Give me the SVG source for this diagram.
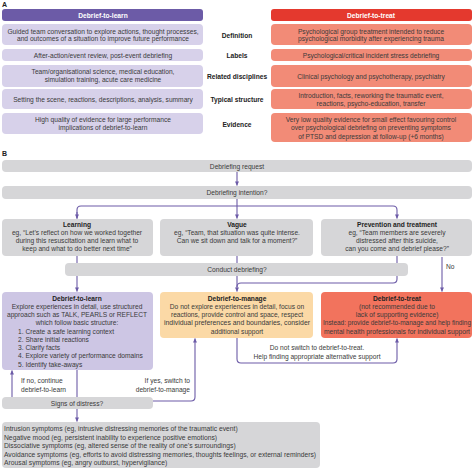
<svg xmlns="http://www.w3.org/2000/svg" width="474" height="469" viewBox="0 0 474 469">
<style>
text{font-family:"Liberation Sans",Arial,sans-serif;font-size:6.65px;fill:#3a3a3a;dominant-baseline:central}
.c{text-anchor:middle}
.r{text-anchor:end}
.b{font-weight:bold;fill:#222}
.h{fill:#fff;font-weight:bold;text-anchor:middle}
.lbl{font-weight:bold;fill:#222;text-anchor:middle}
.sec{font-weight:bold;font-size:7px;fill:#222}
.sy{font-size:6.75px}
.lav{fill:#d7d1ea}
.lav2{fill:#cdc6e4}
.sal{fill:#f28b77}
.gr{fill:#d6d6d8}
.man{fill:#fbd9a6}
.trt{fill:#f2735d}
.conn{fill:none;stroke:#6c5ba7;stroke-width:1.1}
</style>
<defs>
<marker id="ah" viewBox="0 0 6 6" refX="5.5" refY="3" markerWidth="4" markerHeight="4" orient="auto"><path d="M0,0.3 L6,3 L0,5.7 z" fill="#6c5ba7"/></marker>
</defs>

<text class="sec" x="2" y="4">A</text>

<g id="a-left">
<rect x="2" y="9" width="201" height="12" rx="3" fill="#6c5ba7"/>
<text class="h" x="103" y="15.2">Debrief-to-learn</text>
<rect class="lav" x="2" y="24" width="201" height="21" rx="4"/>
<text class="c" x="103" y="31">Guided team conversation to explore actions, thought processes,</text>
<text class="c" x="103" y="38.5">and outcomes of a situation to improve future performance</text>
<rect class="lav" x="2" y="49" width="201" height="12" rx="4"/>
<text class="c" x="103" y="55">After-action/event review, post-event debriefing</text>
<rect class="lav" x="2" y="65" width="201" height="22" rx="4"/>
<text class="c" x="103" y="71.5">Team/organisational science, medical education,</text>
<text class="c" x="103" y="79.5">simulation training, acute care medicine</text>
<rect class="lav" x="2" y="89" width="201" height="20" rx="4"/>
<text class="c" x="103" y="99">Setting the scene, reactions, descriptions, analysis, summary</text>
<rect class="lav" x="2" y="113" width="201" height="21" rx="4"/>
<text class="c" x="103" y="119">High quality of evidence for large performance</text>
<text class="c" x="103" y="127">implications of debrief-to-learn</text>
</g>

<g id="a-labels">
<text class="lbl" x="237" y="35">Definition</text>
<text class="lbl" x="237" y="55">Labels</text>
<text class="lbl" x="237" y="76">Related disciplines</text>
<text class="lbl" x="237" y="99">Typical structure</text>
<text class="lbl" x="237" y="124">Evidence</text>
</g>

<g id="a-right">
<rect x="271" y="9" width="201" height="12" rx="3" fill="#e4392e"/>
<text class="h" x="371" y="15.2">Debrief-to-treat</text>
<rect class="sal" x="271" y="24" width="201" height="21" rx="4"/>
<text class="c" x="371" y="31">Psychological group treatment intended to reduce</text>
<text class="c" x="371" y="38.5">psychological morbidity after experiencing trauma</text>
<rect class="sal" x="271" y="49" width="201" height="12" rx="4"/>
<text class="c" x="371" y="55">Psychological/critical incident stress debriefing</text>
<rect class="sal" x="271" y="65" width="201" height="22" rx="4"/>
<text class="c" x="371" y="76">Clinical psychology and psychotherapy, psychiatry</text>
<rect class="sal" x="271" y="89" width="201" height="20" rx="4"/>
<text class="c" x="371" y="95">Introduction, facts, reworking the traumatic event,</text>
<text class="c" x="371" y="103">reactions, psycho-education, transfer</text>
<rect class="sal" x="271" y="113" width="201" height="29" rx="4"/>
<text class="c" x="371" y="119">Very low quality evidence for small effect favouring control</text>
<text class="c" x="371" y="127.5">over psychological debriefing on preventing symptoms</text>
<text class="c" x="371" y="136">of PTSD and depression at follow-up (+6 months)</text>
</g>

<text class="sec" x="2" y="153">B</text>

<g id="connectors">
<path class="conn" d="M237,172 V185.5" marker-end="url(#ah)"/>
<path class="conn" d="M237,199 V218.5"  marker-end="url(#ah)"/>
<path class="conn" d="M77,218.5 V210 Q77,206 81,206 H393 Q397,206 397,210 V218.5" marker-end="url(#ah)"/>
<path class="conn" d="M77,212 V218.5" marker-end="url(#ah)"/>
<path class="conn" d="M77,256 V291.5" marker-end="url(#ah)"/>
<path class="conn" d="M237,256 V291.5" marker-end="url(#ah)"/>
<path class="conn" d="M397,256 V279 Q397,283 393,283 H241 Q237,283 237,287"/>
<path class="conn" d="M442,257 V291.5" marker-end="url(#ah)"/>
<path class="conn" d="M237,338 V359 Q237,363 241,363 H393 Q397,363 397,359 V338.5" marker-end="url(#ah)"/>
<path class="conn" d="M77,370 V421.5" marker-end="url(#ah)"/>
<path class="conn" d="M12,397 V370.5" marker-end="url(#ah)"/>
<path class="conn" d="M153,401 H191 Q195,401 195,397 V338.5" marker-end="url(#ah)"/>
</g>

<g id="debriefing-request">
<rect class="gr" x="2" y="160" width="470" height="12" rx="4"/>
<text class="c" x="237" y="166">Debriefing request</text>
</g>
<g id="debriefing-intention">
<rect class="gr" x="2" y="186" width="470" height="13" rx="4"/>
<text class="c" x="237" y="192.5">Debriefing intention?</text>
</g>
<g id="learning">
<rect class="gr" x="2" y="219" width="151" height="37" rx="4"/>
<text class="c b" x="77" y="224.5">Learning</text>
<text class="c" x="77" y="232.5">eg, “Let’s reflect on how we worked together</text>
<text class="c" x="77" y="240.5">during this resuscitation and learn what to</text>
<text class="c" x="77" y="248.5">keep and what to do better next time”</text>
</g>
<g id="vague">
<rect class="gr" x="160" y="219" width="153" height="37" rx="4"/>
<text class="c b" x="237" y="224.5">Vague</text>
<text class="c" x="237" y="232.5">eg, “Team, that situation was quite intense.</text>
<text class="c" x="237" y="240.5">Can we sit down and talk for a moment?”</text>
</g>
<g id="prevention">
<rect class="gr" x="321" y="219" width="151" height="37" rx="4"/>
<text class="c b" x="397" y="224.5">Prevention and treatment</text>
<text class="c" x="397" y="232.5">eg, “Team members are severely</text>
<text class="c" x="397" y="240.5">distressed after this suicide,</text>
<text class="c" x="397" y="248.5">can you come and debrief please?”</text>
</g>
<g id="conduct">
<rect class="gr" x="65" y="263" width="343" height="13" rx="4"/>
<text class="c" x="237" y="269.5">Conduct debriefing?</text>
</g>
<text x="446" y="266">No</text>

<g id="debrief-to-learn">
<rect class="lav2" x="2" y="292" width="151" height="78" rx="4"/>
<text class="c b" x="77" y="298">Debrief-to-learn</text>
<text class="c" x="77" y="306">Explore experiences in detail, use structured</text>
<text class="c" x="77" y="314">approach such as TALK, PEARLS or REFLECT</text>
<text class="c" x="77" y="322">which follow basic structure:</text>
<text x="18" y="331">1. Create a safe learning context</text>
<text x="18" y="339">2. Share initial reactions</text>
<text x="18" y="347">3. Clarify facts</text>
<text x="18" y="355.5">4. Explore variety of performance domains</text>
<text x="18" y="364">5. Identify take-aways</text>
</g>
<g id="debrief-to-manage">
<rect class="man" x="160" y="292" width="153" height="46" rx="4"/>
<text class="c b" x="237" y="298">Debrief-to-manage</text>
<text class="c" x="237" y="306">Do not explore experiences in detail, focus on</text>
<text class="c" x="237" y="314.5">reactions, provide control and space, respect</text>
<text class="c" x="237" y="322.5" textLength="146" lengthAdjust="spacingAndGlyphs">individual preferences and boundaries, consider</text>
<text class="c" x="237" y="331">additional support</text>
</g>
<g id="debrief-to-treat">
<rect class="trt" x="321" y="292" width="151" height="46" rx="4"/>
<text class="c b" x="397" y="298">Debrief-to-treat</text>
<text class="c" x="397" y="306">(not recommended due to</text>
<text class="c" x="397" y="314.5">lack of supporting evidence)</text>
<text class="c" x="397" y="322.5" textLength="148" lengthAdjust="spacingAndGlyphs">Instead: provide debrief-to-manage and help finding</text>
<text class="c" x="397" y="331" textLength="146" lengthAdjust="spacingAndGlyphs">mental health professionals for individual support</text>
</g>
<text class="c" x="317" y="347">Do not switch to debrief-to-treat.</text>
<text class="c" x="317" y="356">Help finding appropriate alternative support</text>
<text x="21" y="380">If no, continue</text>
<text x="21" y="389">debrief-to-learn</text>
<text class="r" x="190" y="380">If yes, switch to</text>
<text class="r" x="190" y="389">debrief-to-manage</text>

<g id="signs">
<rect class="gr" x="2" y="397" width="151" height="12" rx="4"/>
<text class="c" x="77" y="403">Signs of distress?</text>
</g>
<g id="symptoms">
<rect class="gr" x="2" y="422" width="318" height="46" rx="4"/>
<text class="sy" x="4" y="428.5">Intrusion symptoms (eg, intrusive distressing memories of the traumatic event)</text>
<text class="sy" x="4" y="437">Negative mood (eg, persistent inability to experience positive emotions)</text>
<text class="sy" x="4" y="445.5">Dissociative symptoms (eg, altered sense of the reality of one’s surroundings)</text>
<text class="sy" x="4" y="454" textLength="312" lengthAdjust="spacingAndGlyphs">Avoidance symptoms (eg, efforts to avoid distressing memories, thoughts feelings, or external reminders)</text>
<text class="sy" x="4" y="462.5">Arousal symptoms (eg, angry outburst, hypervigilance)</text>
</g>
</svg>
